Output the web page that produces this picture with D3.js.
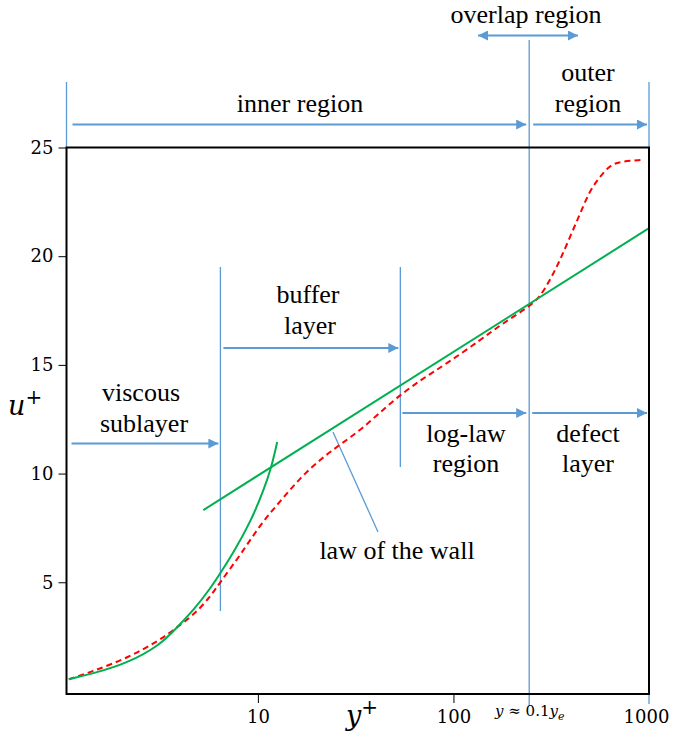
<!DOCTYPE html>
<html>
<head>
<meta charset="utf-8">
<script src="https://cdn.jsdelivr.net/npm/d3@7"></script>
<style>
  html, body { margin: 0; padding: 0; background: #fff; }
  svg { display: block; }
</style>
</head>
<body>
<svg id="chart" width="675" height="739"></svg>
<script>
// Wall-normal coordinate y+ and velocity u+ of the viscous-sublayer curve
const viscousYPlus = [1.079, 1.448, 2.146, 3.177, 3.867, 4.701, 5.723, 6.438, 7.528, 9.165, 10.72, 11.74, 12.55];
const viscousUPlus = [0.54, 0.81, 1.27, 2.12, 2.94, 3.73, 4.73, 5.43, 6.39, 7.77, 9.25, 10.30, 11.45];

// Log-law line end points
const logLawYPlus = [5.26, 1000];
const logLawUPlus = [8.32, 21.29];

// Full velocity profile (dashed)
const profileYPlus = [1.079, 1.448, 2.146, 3.177, 3.867, 4.701, 5.723, 6.438, 8.147, 10.31, 13.05, 16.52,
                      20.90, 26.45, 34.80, 47.66, 67.8, 92.9, 137.5, 174, 248, 277, 312, 351, 395, 445,
                      500, 562, 632, 711, 918];
const profileUPlus = [0.54, 0.92, 1.51, 2.35, 2.94, 3.50, 4.34, 5.03, 6.26, 7.67, 8.74, 9.82,
                      10.66, 11.35, 12.11, 13.27, 14.31, 15.07, 16.15, 16.84, 17.72, 18.14, 18.9, 19.82, 20.9, 21.97,
                      23.05, 23.66, 24.19, 24.35, 24.43];

// Axis ticks
const yTicks = [5, 10, 15, 20, 25];
const xTicks = [10, 100, 1000];

// Region boundaries in y+
const boundaryViscous = 6.43;
const boundaryLogLaw = 53.5;
const boundaryOverlap = 244;
const yPlusMin = 1.05;
const yPlusMax = 1000;

const blue = "#5B9BD5";
const serif = "Liberation Serif";
const mathSerif = "DejaVu Serif";
const svg = d3.select("#chart");

const x = d3.scaleLog().domain([yPlusMin, yPlusMax]).range([66.5, 649]);
const y = d3.scaleLinear().domain([-0.14, 25]).range([694, 147.5]);

// arrowheads
const defs = svg.append("defs");
function marker(id, orient) {
  defs.append("marker")
    .attr("id", id).attr("viewBox", "0 0 10 10")
    .attr("refX", 10).attr("refY", 5)
    .attr("markerWidth", 11).attr("markerHeight", 10)
    .attr("markerUnits", "userSpaceOnUse")
    .attr("orient", orient)
    .append("path").attr("d", "M0,0 L10,5 L0,10 Z").attr("fill", blue);
}
marker("head", "auto");
marker("headStart", "auto-start-reverse");

// vertical boundary lines
const vLines = svg.append("g").attr("stroke", blue).attr("stroke-width", 1.3);
function vline(xv, y1, y2) {
  vLines.append("line").attr("x1", x(xv)).attr("x2", x(xv)).attr("y1", y1).attr("y2", y2);
}
vline(yPlusMin, 82, 148);
vline(yPlusMax, 82, 704);
vline(boundaryOverlap, 40, 705);
vline(boundaryViscous, 267, 611);
vline(boundaryLogLaw, 267, 467);

// horizontal arrows
const arrows = svg.append("g").attr("stroke", blue).attr("stroke-width", 2).attr("fill", "none");
function arrow(x1, x2, yy, both) {
  const l = arrows.append("line").attr("x1", x1).attr("x2", x2).attr("y1", yy).attr("y2", yy)
    .attr("marker-end", "url(#head)");
  if (both) l.attr("marker-start", "url(#headStart)");
}
arrow(x(yPlusMin) + 6, x(boundaryOverlap) - 3, 124.5);
arrow(x(boundaryOverlap) + 4, x(yPlusMax) - 2, 124.5);
arrow(478, 578, 35.5, true);
arrow(x(yPlusMin) + 5, x(boundaryViscous) - 2, 443.5);
arrow(x(boundaryViscous) + 3, x(boundaryLogLaw) - 2, 348);
arrow(x(boundaryLogLaw) + 2, x(boundaryOverlap) - 3, 413);
arrow(x(boundaryOverlap) + 3, x(yPlusMax) - 2, 413);

// pointer to the law of the wall
svg.append("line").attr("x1", 333).attr("y1", 432).attr("x2", 378).attr("y2", 532)
  .attr("stroke", blue).attr("stroke-width", 1.3);

// curves
const line = d3.line().x(d => x(d[0])).y(d => y(d[1])).curve(d3.curveBasis);
svg.append("path")
  .datum(profileYPlus.map((v, i) => [v, profileUPlus[i]]))
  .attr("d", line).attr("fill", "none").attr("stroke", "#FF0000")
  .attr("stroke-width", 2).attr("stroke-dasharray", "6,4");
svg.append("path")
  .datum(viscousYPlus.map((v, i) => [v, viscousUPlus[i]]))
  .attr("d", line).attr("fill", "none").attr("stroke", "#00B050").attr("stroke-width", 2);
svg.append("path")
  .datum(logLawYPlus.map((v, i) => [v, logLawUPlus[i]]))
  .attr("d", d3.line().x(d => x(d[0])).y(d => y(d[1])))
  .attr("fill", "none").attr("stroke", "#00B050").attr("stroke-width", 2);

// frame
svg.append("rect").attr("x", 66.5).attr("y", 147.5).attr("width", 649 - 66.5).attr("height", 694 - 147.5)
  .attr("fill", "none").attr("stroke", "#000").attr("stroke-width", 2);

// axes
const yAxis = svg.append("g").attr("transform", "translate(66.5,0)")
  .call(d3.axisLeft(y).tickValues(yTicks).tickSize(8).tickPadding(5).tickFormat(d3.format("d")));
yAxis.select(".domain").remove();
yAxis.selectAll(".tick line").attr("stroke", "#000");

const xAxis = svg.append("g").attr("transform", "translate(0,694)")
  .call(d3.axisBottom(x).tickValues(xTicks).tickSize(9).tickPadding(7).tickFormat(d3.format("d")));
xAxis.select(".domain").remove();
xAxis.selectAll(".tick line").attr("stroke", d => d === 1000 ? "none" : "#000");
xAxis.selectAll(".tick text").attr("dx", d => d === 1000 ? "-3" : "0");

[yAxis, xAxis].forEach(g => g.attr("font-family", mathSerif).attr("font-size", 18)
  .selectAll(".tick text").attr("fill", "#000"));

// axis titles
const uT = svg.append("text").attr("x", 8).attr("y", 415)
  .attr("font-family", mathSerif).attr("font-size", 27).attr("font-style", "italic");
uT.append("tspan").text("u");
uT.append("tspan").attr("dy", -11).attr("font-size", 20).attr("font-style", "normal").text("+");
const yT = svg.append("text").attr("x", 346).attr("y", 725)
  .attr("font-family", mathSerif).attr("font-size", 27).attr("font-style", "italic");
yT.append("tspan").text("y");
yT.append("tspan").attr("dy", -11).attr("font-size", 20).attr("font-style", "normal").text("+");

const yeT = svg.append("text").attr("x", 495).attr("y", 716)
  .attr("font-family", mathSerif).attr("font-size", 15);
yeT.append("tspan").attr("font-style", "italic").text("y");
yeT.append("tspan").text(" ≈ 0.1");
yeT.append("tspan").attr("font-style", "italic").text("y");
yeT.append("tspan").attr("font-style", "italic").attr("font-size", 11).attr("dy", 4).text("e");

// region labels
const labels = [
  ["overlap region", 526, 23],
  ["inner region", 300, 112],
  ["outer", 588, 81],
  ["region", 588, 112],
  ["buffer", 308, 303],
  ["layer", 310, 334],
  ["viscous", 141, 401],
  ["sublayer", 144, 432],
  ["log-law", 466, 442],
  ["region", 466, 472],
  ["defect", 588, 442],
  ["layer", 588, 472],
  ["law of the wall", 397, 559]
];
svg.append("g").selectAll("text").data(labels).join("text")
  .attr("font-family", serif).attr("font-size", 26).attr("fill", "#000")
  .attr("text-anchor", "middle")
  .attr("x", d => d[1]).attr("y", d => d[2]).text(d => d[0]);
</script>
</body>
</html>
